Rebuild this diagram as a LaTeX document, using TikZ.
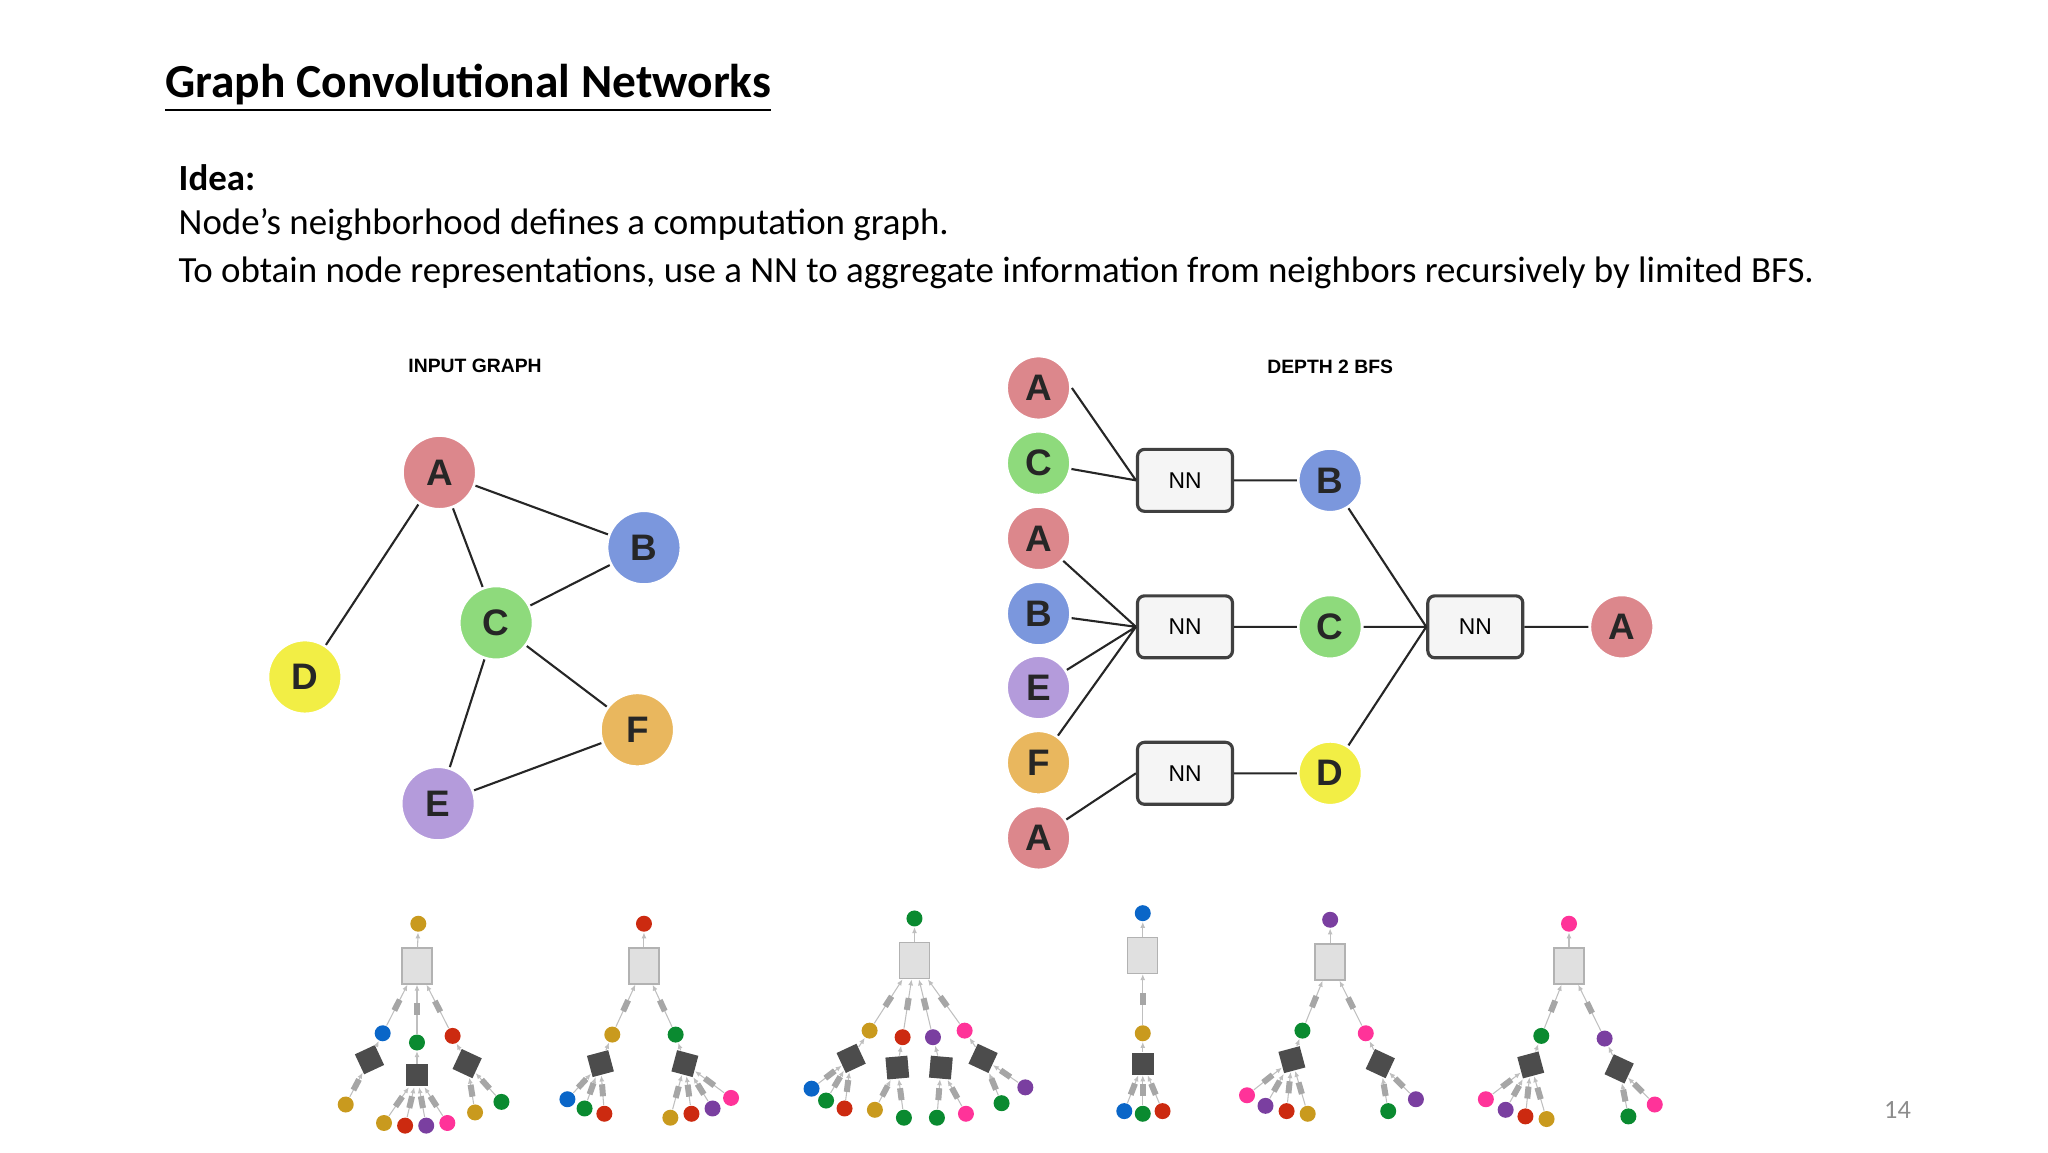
\documentclass[tikz,border=0pt]{standalone}
\usepackage{fontspec}
\setmainfont{Carlito}
\newfontfamily\lettersf{Liberation Sans}
\usetikzlibrary{positioning, arrows.meta}
\definecolor{gnA}{HTML}{DC878C}
\definecolor{gnB}{HTML}{7B97DD}
\definecolor{gnC}{HTML}{8EDA7C}
\definecolor{gnD}{HTML}{F2EE45}
\definecolor{gnE}{HTML}{B49BDB}
\definecolor{gnF}{HTML}{E9B75E}
\definecolor{tgold}{HTML}{C99A1E}
\definecolor{tred}{HTML}{CC2A10}
\definecolor{tgreen}{HTML}{0A8A30}
\definecolor{tblue}{HTML}{0A66C8}
\definecolor{tpurple}{HTML}{7A3FA0}
\definecolor{tpink}{HTML}{FF3399}
\tikzset{
gnode/.style={circle, draw=white, line width=0.8pt, minimum size=0.74cm, inner sep=0pt, font=\lettersf\bfseries\fontsize{10.5}{12}\selectfont, text=black!85}, % letter nodes
bnode/.style={gnode, minimum size=0.64cm}, % BFS column nodes
nnbox/.style={draw=black!75, line width=0.9pt, rounded corners=2pt, fill=black!4, minimum width=0.95cm, minimum height=0.62cm, font=\lettersf\fontsize{6.5}{8}\selectfont},
edge/.style={line width=0.6pt, black!85},
dot/.style={circle, minimum size=0.16cm, inner sep=0pt}, % tree dots
agg/.style={draw=black!30, fill=black!12, minimum width=0.3cm, minimum height=0.36cm, inner sep=0pt},
nn/.style={fill=black!70, minimum size=0.22cm, inner sep=0pt},
tag/.style={fill=black!35, minimum width=0.12cm, minimum height=0.06cm, inner sep=0pt},
tedge/.style={black!25, line width=0.3pt, -{Latex[length=0.6mm,width=0.5mm]}},
}
\begin{document}
\begin{tikzpicture}[x=0.013196cm, y=-0.013196cm]
\useasboundingbox (0,0) rectangle (1552,873);

% slide text
\node[anchor=base west, font=\bfseries\fontsize{13.5}{16}\selectfont] (title) at (116,74) {\underline{Graph Convolutional Networks}};
\node[anchor=base west, font=\bfseries\fontsize{10.5}{13}\selectfont] (idea) at (126,144) {Idea:};
\node[anchor=base west, font=\fontsize{10.5}{13}\selectfont] (l1) at (126,178) {Node’s neighborhood defines a computation graph.};
\node[anchor=base west, font=\fontsize{10.5}{13}\selectfont] (l2) at (126,214) {To obtain node representations, use a NN to aggregate information from neighbors recursively by limited BFS.};
\node[text=black!45, font=\fontsize{7.5}{9}\selectfont] (pg) at (1438,841) {14};

% input graph
\node[font=\lettersf\bfseries\fontsize{5.5}{7}\selectfont] (ig) at (360,277) {INPUT GRAPH};
\node[gnode, fill=gnA] (A) at (333,358) {A};
\node[gnode, fill=gnB] (B) at (488,415) {B};
\node[gnode, fill=gnC] (C) at (376,472) {C};
\node[gnode, fill=gnD] (D) at (231,513) {D};
\node[gnode, fill=gnE] (E) at (332,609) {E};
\node[gnode, fill=gnF] (F) at (483,553) {F};
\draw[edge] (A) -- (B) (A) -- (C) (A) -- (D) (B) -- (C) (C) -- (F) (C) -- (E) (E) -- (F);

% depth 2 bfs
\node[font=\lettersf\bfseries\fontsize{5.5}{7}\selectfont] (bfs) at (1008,278) {DEPTH 2 BFS};
\node[bnode, fill=gnA] (a1) at (787,294) {A};
\node[bnode, fill=gnC] (c1) at (787,351) {C};
\node[bnode, fill=gnA] (a2) at (787,408) {A};
\node[bnode, fill=gnB] (b1) at (787,465) {B};
\node[bnode, fill=gnE] (e1) at (787,521) {E};
\node[bnode, fill=gnF] (f1) at (787,578) {F};
\node[bnode, fill=gnA] (a3) at (787,635) {A};
\node[nnbox] (nn1) at (898,364) {NN};
\node[nnbox] (nn2) at (898,475) {NN};
\node[nnbox] (nn3) at (898,586) {NN};
\node[bnode, fill=gnB] (b2) at (1008,364) {B};
\node[bnode, fill=gnC] (c2) at (1008,475) {C};
\node[bnode, fill=gnD] (d2) at (1008,586) {D};
\node[nnbox] (nn4) at (1118,475) {NN};
\node[bnode, fill=gnA] (a4) at (1229,475) {A};
\draw[edge] (a1.east) -- (nn1.west) (c1) -- (nn1.west)
  (a2) -- (nn2.west) (b1) -- (nn2.west) (e1) -- (nn2.west) (f1) -- (nn2.west)
  (a3) -- (nn3.west)
  (nn1) -- (b2) (nn2) -- (c2) (nn3) -- (d2)
  (b2) -- (nn4.west) (c2) -- (nn4.west) (d2) -- (nn4.west) (nn4) -- (a4);

% computation trees
% tree 1
\node[dot, fill=tgold] (r1) at (317,700) {};
\node[agg] (g1) at (316,732) {};
\node[dot, fill=tblue] (t1a) at (290,783) {};
\node[dot, fill=tgreen] (t1b) at (316,790) {};
\node[dot, fill=tred] (t1c) at (343,785) {};
\node[nn, rotate=25] (n1a) at (280,803) {};
\node[nn] (n1b) at (316,815) {};
\node[nn, rotate=-25] (n1c) at (354,806) {};
\node[dot, fill=tgold] (l1a) at (262,837) {};
\node[dot, fill=tgold] (l1b) at (291,851) {};
\node[dot, fill=tred] (l1c) at (307,853) {};
\node[dot, fill=tpurple] (l1d) at (323,853) {};
\node[dot, fill=tpink] (l1e) at (339,851) {};
\node[dot, fill=tgold] (l1f) at (360,843) {};
\node[dot, fill=tgreen] (l1g) at (380,835) {};
\draw[tedge] (g1) -- (r1);
\foreach \s/\t in {t1a/g1, t1b/g1, t1c/g1, l1a/n1a, l1b/n1b, l1c/n1b, l1d/n1b, l1e/n1b, l1f/n1c, l1g/n1c}
  \draw[tedge] (\s) -- node[tag, sloped]{} (\t);
\draw[tedge] (n1a) -- (t1a);
\draw[tedge] (n1b) -- (t1b);
\draw[tedge] (n1c) -- (t1c);

% tree 2
\node[dot, fill=tred] (r2) at (488,700) {};
\node[agg] (g2) at (488,732) {};
\node[dot, fill=tgold] (t2a) at (464,784) {};
\node[dot, fill=tgreen] (t2b) at (512,784) {};
\node[nn, rotate=15] (n2a) at (455,806) {};
\node[nn, rotate=-15] (n2b) at (519,806) {};
\node[dot, fill=tblue] (l2a) at (430,833) {};
\node[dot, fill=tgreen] (l2b) at (443,840) {};
\node[dot, fill=tred] (l2c) at (458,844) {};
\node[dot, fill=tgold] (l2d) at (508,847) {};
\node[dot, fill=tred] (l2e) at (524,844) {};
\node[dot, fill=tpurple] (l2f) at (540,840) {};
\node[dot, fill=tpink] (l2g) at (554,832) {};
\draw[tedge] (g2) -- (r2);
\foreach \s/\t in {t2a/g2, t2b/g2, l2a/n2a, l2b/n2a, l2c/n2a, l2d/n2b, l2e/n2b, l2f/n2b, l2g/n2b}
  \draw[tedge] (\s) -- node[tag, sloped]{} (\t);
\draw[tedge] (n2a) -- (t2a);
\draw[tedge] (n2b) -- (t2b);

% tree 3
\node[dot, fill=tgreen] (r3) at (693,696) {};
\node[agg] (g3) at (693,728) {};
\node[dot, fill=tgold] (t3a) at (659,781) {};
\node[dot, fill=tred] (t3b) at (684,786) {};
\node[dot, fill=tpurple] (t3c) at (707,786) {};
\node[dot, fill=tpink] (t3d) at (731,781) {};
\node[nn, rotate=25] (n3a) at (645,802) {};
\node[nn, rotate=5] (n3b) at (680,809) {};
\node[nn, rotate=-5] (n3c) at (713,809) {};
\node[nn, rotate=-25] (n3d) at (745,802) {};
\node[dot, fill=tblue] (l3a) at (615,825) {};
\node[dot, fill=tgreen] (l3b) at (626,834) {};
\node[dot, fill=tred] (l3c) at (640,840) {};
\node[dot, fill=tgold] (l3d) at (663,841) {};
\node[dot, fill=tgreen] (l3e) at (685,847) {};
\node[dot, fill=tgreen] (l3f) at (710,847) {};
\node[dot, fill=tpink] (l3g) at (732,844) {};
\node[dot, fill=tgreen] (l3h) at (759,836) {};
\node[dot, fill=tpurple] (l3i) at (777,824) {};
\draw[tedge] (g3) -- (r3);
\foreach \s/\t in {t3a/g3, t3b/g3, t3c/g3, t3d/g3, l3a/n3a, l3b/n3a, l3c/n3a, l3d/n3b, l3e/n3b, l3f/n3c, l3g/n3c, l3h/n3d, l3i/n3d}
  \draw[tedge] (\s) -- node[tag, sloped]{} (\t);
\draw[tedge] (n3a) -- (t3a);
\draw[tedge] (n3b) -- (t3b);
\draw[tedge] (n3c) -- (t3c);
\draw[tedge] (n3d) -- (t3d);

% tree 4
\node[dot, fill=tblue] (r4) at (866,692) {};
\node[agg] (g4) at (866,724) {};
\node[dot, fill=tgold] (t4a) at (866,783) {};
\node[nn] (n4a) at (866,806) {};
\node[dot, fill=tblue] (l4a) at (852,842) {};
\node[dot, fill=tgreen] (l4b) at (866,844) {};
\node[dot, fill=tred] (l4c) at (881,842) {};
\draw[tedge] (g4) -- (r4);
\foreach \s/\t in {t4a/g4, l4a/n4a, l4b/n4a, l4c/n4a}
  \draw[tedge] (\s) -- node[tag, sloped]{} (\t);
\draw[tedge] (n4a) -- (t4a);

% tree 5
\node[dot, fill=tpurple] (r5) at (1008,697) {};
\node[agg] (g5) at (1008,729) {};
\node[dot, fill=tgreen] (t5a) at (987,781) {};
\node[dot, fill=tpink] (t5b) at (1035,783) {};
\node[nn, rotate=15] (n5a) at (979,803) {};
\node[nn, rotate=-25] (n5b) at (1046,806) {};
\node[dot, fill=tpink] (l5a) at (945,830) {};
\node[dot, fill=tpurple] (l5b) at (959,838) {};
\node[dot, fill=tred] (l5c) at (975,842) {};
\node[dot, fill=tgold] (l5d) at (991,844) {};
\node[dot, fill=tgreen] (l5e) at (1052,842) {};
\node[dot, fill=tpurple] (l5f) at (1073,833) {};
\draw[tedge] (g5) -- (r5);
\foreach \s/\t in {t5a/g5, t5b/g5, l5a/n5a, l5b/n5a, l5c/n5a, l5d/n5a, l5e/n5b, l5f/n5b}
  \draw[tedge] (\s) -- node[tag, sloped]{} (\t);
\draw[tedge] (n5a) -- (t5a);
\draw[tedge] (n5b) -- (t5b);

% tree 6
\node[dot, fill=tpink] (r6) at (1189,700) {};
\node[agg] (g6) at (1189,732) {};
\node[dot, fill=tgreen] (t6a) at (1168,785) {};
\node[dot, fill=tpurple] (t6b) at (1216,787) {};
\node[nn, rotate=15] (n6a) at (1160,807) {};
\node[nn, rotate=-25] (n6b) at (1227,810) {};
\node[dot, fill=tpink] (l6a) at (1126,833) {};
\node[dot, fill=tpurple] (l6b) at (1141,841) {};
\node[dot, fill=tred] (l6c) at (1156,846) {};
\node[dot, fill=tgold] (l6d) at (1172,848) {};
\node[dot, fill=tgreen] (l6e) at (1234,846) {};
\node[dot, fill=tpink] (l6f) at (1254,837) {};
\draw[tedge] (g6) -- (r6);
\foreach \s/\t in {t6a/g6, t6b/g6, l6a/n6a, l6b/n6a, l6c/n6a, l6d/n6a, l6e/n6b, l6f/n6b}
  \draw[tedge] (\s) -- node[tag, sloped]{} (\t);
\draw[tedge] (n6a) -- (t6a);
\draw[tedge] (n6b) -- (t6b);
\end{tikzpicture}
\end{document}
